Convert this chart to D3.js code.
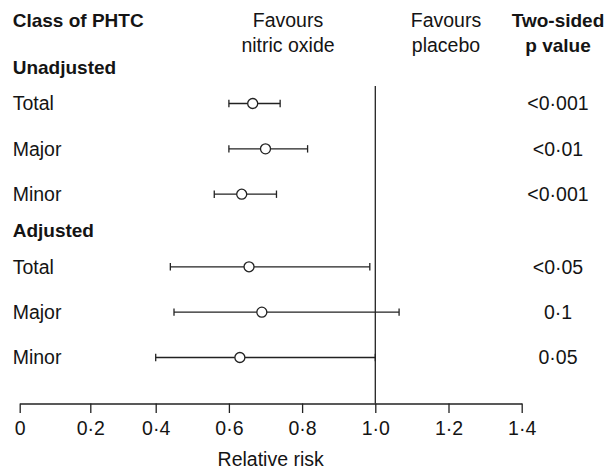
<!DOCTYPE html>
<html lang="en">
<head>
    <meta charset="UTF-8">
    <title>Relative risk of PHTC - forest plot</title>
    <script src="https://d3js.org/d3.v7.min.js"></script>
    <style>
        body{
            margin: 0;
            background-color: #ffffff;
        }
        #canvas{
            display: block;
            font-family: "Liberation Sans", Arial, sans-serif;
        }
        .lbl{
            font-size: 19.5px;
            fill: #141414;
        }
        .bold{
            font-weight: bold;
            font-size: 19px;
        }
        .ci{
            stroke: #222;
            stroke-width: 1.3px;
            fill: none;
        }
        .est{
            fill: #ffffff;
            stroke: #222;
            stroke-width: 1.3px;
        }
        .axis path, .axis line{
            stroke: #222;
            stroke-width: 1.3px;
        }
        .axis text{
            font-family: "Liberation Sans", Arial, sans-serif;
            font-size: 19.5px;
            fill: #141414;
        }
    </style>
</head>
<body>
<svg id="canvas" width="606" height="470"></svg>

<script>
    // data
    let groups = ["Unadjusted", "Adjusted"]
    let classes = ["Total", "Major", "Minor"]
    let rr_point = [[0.665, 0.70, 0.635], [0.655, 0.69, 0.63]]
    let rr_low = [[0.60, 0.60, 0.56], [0.44, 0.45, 0.40]]
    let rr_high = [[0.74, 0.815, 0.73], [0.985, 1.065, 1.00]]
    let p_values = [["<0·001", "<0·01", "<0·001"], ["<0·05", "0·1", "0·05"]]
    let tick_values = [0, 0.2, 0.4, 0.6, 0.8, 1.0, 1.2, 1.4]
    let tick_labels = ["0", "0·2", "0·4", "0·6", "0·8", "1·0", "1·2", "1·4"]

    let svg = d3.select('#canvas')

    // the printed axis is not evenly spaced below 0.4, so the scale follows it
    let x = d3.scaleLinear()
        .domain([0, 0.2, 0.4, 1.4])
        .range([19.7, 90.3, 155.7, 521.7])

    // one slot per row, headers sit a bit above their first row
    let y = d3.scaleLinear().domain([0, 5.6]).range([103.5, 357.5])
    let group_gap = 3.6
    let axis_y = 403.5

    let rows = []
    groups.forEach((g, gi) => {
        classes.forEach((c, ci) => {
            rows.push({
                group: g, name: c, slot: gi * group_gap + ci,
                point: rr_point[gi][ci], low: rr_low[gi][ci], high: rr_high[gi][ci],
                p: p_values[gi][ci]
            })
        })
    })

    // column headers
    let header = svg.append('g')
    header.append('text').attr('class', 'lbl bold')
        .attr('x', 12.7).attr('y', 27).text('Class of PHTC')
    let head2 = [
        {x: 288, lines: ['Favours', 'nitric oxide'], bold: false},
        {x: 446, lines: ['Favours', 'placebo'], bold: false},
        {x: 558, lines: ['Two-sided', 'p value'], bold: true}
    ]
    head2.forEach(h => {
        h.lines.forEach((t, i) => {
            header.append('text')
                .attr('class', h.bold ? 'lbl bold' : 'lbl')
                .attr('x', h.x).attr('y', 27 + i * 25)
                .attr('text-anchor', 'middle')
                .text(t)
        })
    })

    // group headers
    svg.selectAll('text.group')
        .data(groups)
        .enter()
        .append('text')
        .attr('class', 'lbl bold group')
        .attr('x', 12.7)
        .attr('y', (d, i) => y(i * group_gap - 0.8))
        .attr('dy', '0.35em')
        .text(d => d)

    // row labels and p values
    let row = svg.selectAll('g.row')
        .data(rows)
        .enter()
        .append('g')
        .attr('class', 'row')
        .attr('transform', d => `translate(0,${y(d.slot)})`)

    row.append('text').attr('class', 'lbl')
        .attr('x', 12.7).attr('dy', '0.35em')
        .text(d => d.name)
    row.append('text').attr('class', 'lbl')
        .attr('x', 558).attr('dy', '0.35em')
        .attr('text-anchor', 'middle')
        .text(d => d.p)

    // line of no effect
    svg.append('line')
        .attr('class', 'ci')
        .attr('x1', x(1)).attr('x2', x(1))
        .attr('y1', 86).attr('y2', axis_y)

    // confidence intervals
    row.append('line').attr('class', 'ci')
        .attr('x1', d => x(d.low)).attr('x2', d => x(d.high))
    row.append('line').attr('class', 'ci')
        .attr('x1', d => x(d.low)).attr('x2', d => x(d.low))
        .attr('y1', -3.7).attr('y2', 3.7)
    row.append('line').attr('class', 'ci')
        .attr('x1', d => x(d.high)).attr('x2', d => x(d.high))
        .attr('y1', -3.7).attr('y2', 3.7)
    row.append('circle').attr('class', 'est')
        .attr('cx', d => x(d.point))
        .attr('r', 5)

    // x axis
    let x_axis = d3.axisBottom(x)
        .tickValues(tick_values)
        .tickFormat((d, i) => tick_labels[i])
        .tickSize(9.5)
        .tickSizeOuter(0)
        .tickPadding(8)
    svg.append('g').attr('class', 'axis')
        .attr('transform', `translate(0,${axis_y})`)
        .call(x_axis)

    svg.append('text').attr('class', 'lbl')
        .attr('x', (x(0) + x(1.4)) / 2).attr('y', 466)
        .attr('text-anchor', 'middle')
        .text('Relative risk')
</script>
</body>
</html>
